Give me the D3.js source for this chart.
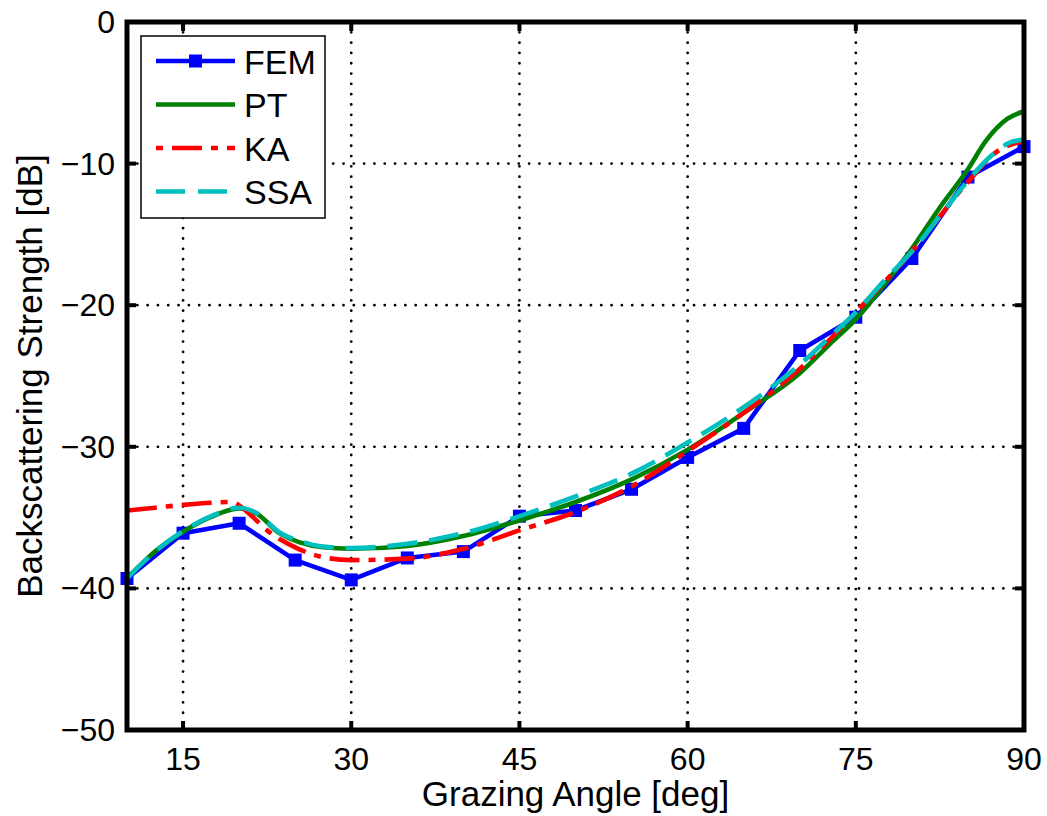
<!DOCTYPE html>
<html>
<head>
<meta charset="utf-8">
<script src="https://cdn.jsdelivr.net/npm/d3@7"></script>
<style>
  html, body { margin: 0; padding: 0; background: #fff; }
  svg { display: block; font-family: "Liberation Sans", Arial, Helvetica, sans-serif; }
</style>
</head>
<body>
<svg id="chart" width="1047" height="816"></svg>
<script>
// ---- data ----
const femAngles = [10, 15, 20, 25, 30, 35, 40, 45, 50, 55, 60, 65, 70, 75, 80, 85, 90];
const femValues = [-39.3, -36.1, -35.4, -38.0, -39.4, -37.85, -37.4, -34.9, -34.5, -33.0, -30.75, -28.7, -23.2, -20.85, -16.7, -10.95, -8.8];

const ptAngles = [10, 12.5, 15, 17.5, 20, 21.6, 23.6, 25.4, 27.5, 30, 35, 40, 45, 50, 55, 60, 65, 70, 73, 75, 77.5, 80, 82.5, 85, 86.6, 88.5, 90];
const ptValues = [-39.3, -37.4, -36.0, -34.95, -34.35, -34.75, -36.1, -36.75, -37.1, -37.2, -37.0, -36.3, -35.2, -33.9, -32.3, -30.2, -27.6, -24.8, -22.5, -21.0, -18.6, -16.0, -13.1, -10.4, -8.4, -6.85, -6.3];

const kaAngles = [10, 12.5, 15, 17.5, 19.3, 21, 22.5, 25, 27.5, 30, 35, 40, 45, 50, 55, 60, 65, 70, 75, 80, 85, 87.5, 90];
const kaValues = [-34.5, -34.3, -34.1, -33.95, -33.9, -34.8, -35.9, -37.1, -37.8, -38.0, -37.9, -37.2, -35.9, -34.6, -32.8, -30.3, -27.6, -24.5, -20.5, -16.2, -11.3, -9.2, -8.4];

const ssaAngles = [10, 12.5, 15, 17.5, 20, 21.6, 23.6, 25.4, 27.5, 30, 35, 40, 45, 50, 55, 60, 65, 70, 73, 75, 77.5, 80, 82.5, 85, 87, 88.5, 90];
const ssaValues = [-39.3, -37.4, -35.95, -34.9, -34.3, -34.7, -36.05, -36.65, -37.05, -37.15, -36.85, -36.1, -34.9, -33.5, -31.9, -29.7, -27.2, -24.2, -22.0, -20.5, -18.3, -16.2, -13.7, -11.2, -9.5, -8.6, -8.3];

const xTicks = [15, 30, 45, 60, 75, 90];
const yTicks = [0, -10, -20, -30, -40, -50];
const seriesNames = ["FEM", "PT", "KA", "SSA"];
const xLabel = "Grazing Angle [deg]";
const yLabel = "Backscattering Strength [dB]";

// ---- layout ----
const L = 127, R = 1024, T = 22, B = 730;
const svg = d3.select("#chart");
const x = d3.scaleLinear().domain([10, 90]).range([L, R]);
const y = d3.scaleLinear().domain([-50, 0]).range([B, T]);

// grid
const grid = svg.append("g");
grid.selectAll("line.gx").data(xTicks.filter(d => d < 90)).join("line")
  .attr("x1", d => x(d)).attr("x2", d => x(d)).attr("y1", T).attr("y2", B)
  .attr("stroke", "#000").attr("stroke-width", 2.8)
  .attr("stroke-dasharray", "0.01,10.3").attr("stroke-linecap", "round");
grid.selectAll("line.gy").data(yTicks.filter(d => d > -50 && d < 0)).join("line")
  .attr("x1", L).attr("x2", R).attr("y1", d => y(d)).attr("y2", d => y(d))
  .attr("stroke", "#000").attr("stroke-width", 2.8)
  .attr("stroke-dasharray", "0.01,10.3").attr("stroke-linecap", "round");

// ticks (inward, on all four sides)
const tk = svg.append("g").attr("stroke", "#000").attr("stroke-width", 4);
xTicks.forEach(d => {
  tk.append("line").attr("x1", x(d)).attr("x2", x(d)).attr("y1", B).attr("y2", B - 9);
  tk.append("line").attr("x1", x(d)).attr("x2", x(d)).attr("y1", T).attr("y2", T + 9);
});
yTicks.forEach(d => {
  tk.append("line").attr("x1", L).attr("x2", L + 9).attr("y1", y(d)).attr("y2", y(d));
  tk.append("line").attr("x1", R).attr("x2", R - 9).attr("y1", y(d)).attr("y2", y(d));
});

// tick labels
svg.append("g").selectAll("text").data(xTicks).join("text")
  .attr("x", d => x(d)).attr("y", 770)
  .attr("text-anchor", "middle").attr("font-size", 32).attr("fill", "#000")
  .text(d => d);
svg.append("g").selectAll("text").data(yTicks).join("text")
  .attr("x", 115).attr("y", d => y(d) + 11)
  .attr("text-anchor", "end").attr("font-size", 32).attr("fill", "#000")
  .text(d => d === 0 ? "0" : "\u2212" + Math.abs(d));

// axis labels
svg.append("text").attr("x", (L + R) / 2).attr("y", 806)
  .attr("text-anchor", "middle").attr("font-size", 35).text(xLabel);
svg.append("text").attr("transform", `translate(42,${(T + B) / 2}) rotate(-90)`)
  .attr("text-anchor", "middle").attr("font-size", 35).text(yLabel);

// series
const lineGen = d3.line().x(d => x(d[0])).y(d => y(d[1]));
const smooth = d3.line().x(d => x(d[0])).y(d => y(d[1])).curve(d3.curveMonotoneX);
const zip = (a, b) => a.map((v, i) => [v, b[i]]);

const femData = zip(femAngles, femValues);
svg.append("path").attr("d", lineGen(femData)).attr("fill", "none")
  .attr("stroke", "#0000ff").attr("stroke-width", 4.6).attr("stroke-linejoin", "round");
svg.append("g").selectAll("rect").data(femData).join("rect")
  .attr("x", d => x(d[0]) - 6.5).attr("y", d => y(d[1]) - 6.5)
  .attr("width", 13).attr("height", 13).attr("fill", "#0000ff");

svg.append("path").attr("d", smooth(zip(ptAngles, ptValues))).attr("fill", "none")
  .attr("stroke", "#008000").attr("stroke-width", 4.6);
svg.append("path").attr("d", smooth(zip(kaAngles, kaValues))).attr("fill", "none")
  .attr("stroke", "#ff0000").attr("stroke-width", 4.6).attr("stroke-dasharray", "30,9,7,9");
svg.append("path").attr("d", smooth(zip(ssaAngles, ssaValues))).attr("fill", "none")
  .attr("stroke", "#00bfbf").attr("stroke-width", 4.6).attr("stroke-dasharray", "30,12");

// axes box
svg.append("rect").attr("x", L).attr("y", T).attr("width", R - L).attr("height", B - T)
  .attr("fill", "none").attr("stroke", "#000").attr("stroke-width", 5);

// legend
const lg = svg.append("g");
lg.append("rect").attr("x", 141).attr("y", 36).attr("width", 184).attr("height", 182)
  .attr("fill", "#fff").attr("stroke", "#000").attr("stroke-width", 1.5);
const legY = [61, 104.5, 148, 191.5];
const styles = [
  { c: "#0000ff", dash: null },
  { c: "#008000", dash: null },
  { c: "#ff0000", dash: "7,9,30,9" },
  { c: "#00bfbf", dash: "29,13" }
];
seriesNames.forEach((name, i) => {
  const ln = lg.append("line").attr("x1", 156).attr("x2", 235)
    .attr("y1", legY[i]).attr("y2", legY[i])
    .attr("stroke", styles[i].c).attr("stroke-width", 4.6);
  if (styles[i].dash) ln.attr("stroke-dasharray", styles[i].dash);
  if (i === 0) {
    lg.append("rect").attr("x", 195.5 - 6.5).attr("y", legY[i] - 6.5)
      .attr("width", 13).attr("height", 13).attr("fill", "#0000ff");
  }
  lg.append("text").attr("x", 244).attr("y", legY[i] + 12.5)
    .attr("font-size", 34).attr("fill", "#000").text(name);
});
</script>
</body>
</html>
